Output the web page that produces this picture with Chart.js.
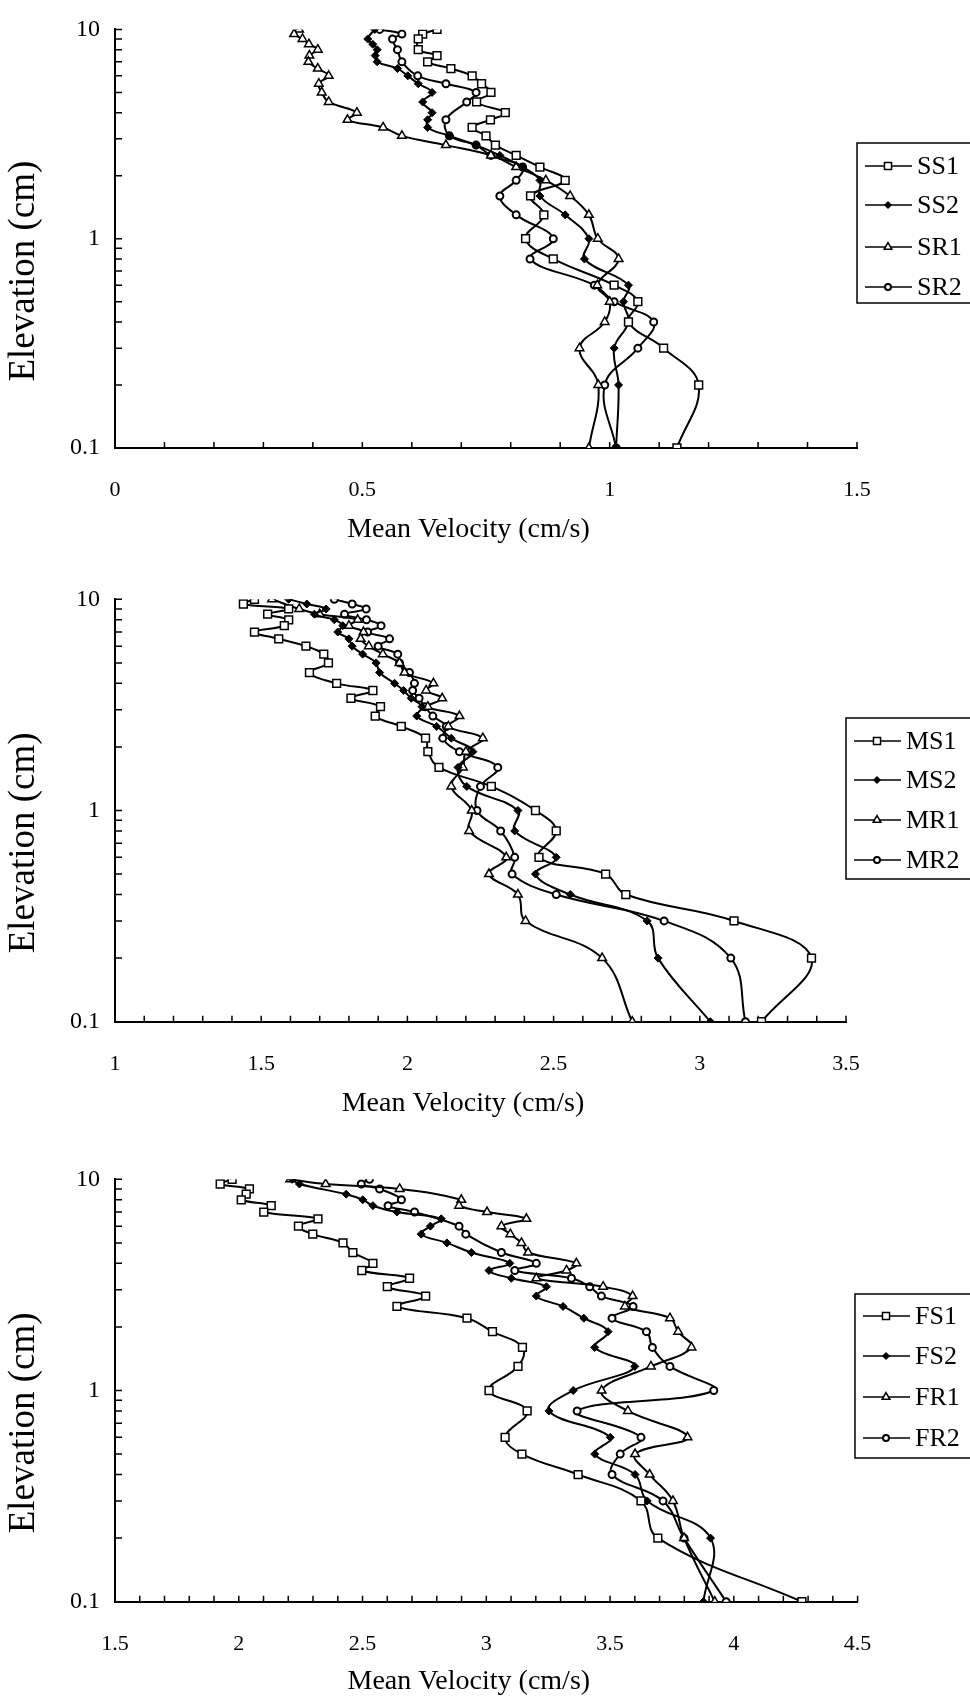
<!DOCTYPE html>
<html>
<head>
<meta charset="utf-8">
<script src="https://cdn.jsdelivr.net/npm/chart.js"></script>
<style>
  html, body { margin: 0; padding: 0; background: #fff; overflow: hidden; }
  body { width: 970px; height: 1696px; position: relative; }
  canvas { position: absolute; left: 0; }
</style>
</head>
<body>
<canvas id="p1" width="970" height="600" style="top:0px"></canvas>
<canvas id="p2" width="970" height="600" style="top:560px"></canvas>
<canvas id="p3" width="970" height="600" style="top:1120px"></canvas>
<script>
Chart.defaults.font.family = '"Liberation Serif", "Times New Roman", serif';
Chart.defaults.color = '#000';

// elevations (cm), top to bottom, shared by every series
const elevations = [10, 9.5, 9, 8.5, 8, 7.5, 7, 6.5, 6, 5.5, 5, 4.5, 4, 3.7, 3.4, 3.1, 2.8, 2.5, 2.2, 1.9, 1.6, 1.3, 1, 0.8, 0.6, 0.5, 0.4, 0.3, 0.2, 0.1];

// mean velocity (cm/s), null = no marker at that elevation
// slow runs
const slowLabels = ['SS1', 'SS2', 'SR1', 'SR2'];
const ss1 = [0.651, 0.622, 0.613, null, 0.613, 0.651, 0.632, 0.679, 0.722, 0.741, 0.760, 0.731, 0.789, 0.759, 0.722, 0.750, 0.769, 0.811, 0.859, 0.910, 0.840, 0.867, 0.830, 0.886, 1.009, 1.057, 1.038, 1.109, 1.180, 1.136];
const ss2 = [0.525, null, 0.511, 0.521, 0.530, 0.526, 0.530, 0.571, 0.592, 0.613, 0.641, 0.622, 0.641, 0.632, 0.632, 0.676, 0.730, 0.778, 0.824, 0.859, 0.859, 0.910, 0.958, 0.949, 1.038, 1.028, 1.038, 1.009, 1.018, 1.013];
const sr1 = [0.372, 0.362, 0.379, 0.392, 0.410, 0.393, 0.391, 0.410, 0.432, 0.412, 0.418, 0.432, 0.489, 0.470, 0.542, 0.580, 0.669, 0.760, 0.811, 0.871, 0.920, 0.958, 0.976, 1.018, 0.975, 1.000, 0.990, 0.939, 0.977, 0.958];
const sr2 = [0.535, 0.580, 0.561, null, 0.571, null, 0.580, null, 0.612, 0.669, 0.730, 0.711, null, 0.669, null, 0.676, 0.730, 0.760, 0.824, 0.811, 0.778, 0.811, 0.886, 0.839, 0.969, 1.009, 1.089, 1.057, 0.990, 1.013];

// medium runs
const medLabels = ['MS1', 'MS2', 'MR1', 'MR2'];
const ms1 = [1.477, 1.439, 1.594, 1.522, 1.594, 1.579, 1.477, 1.560, 1.653, 1.714, 1.730, 1.665, 1.758, 1.882, 1.807, 1.908, 1.890, 1.979, 2.062, 2.070, 2.108, 2.287, 2.438, 2.509, 2.450, 2.678, 2.747, 3.117, 3.382, 3.211];
const ms2 = [1.594, 1.656, 1.722, 1.682, 1.750, 1.779, 1.762, 1.800, 1.811, 1.847, 1.893, 1.905, 1.956, 1.987, 2.013, 2.050, 2.032, 2.100, 2.150, 2.224, 2.173, 2.203, 2.378, 2.367, 2.509, 2.438, 2.557, 2.820, 2.857, 3.036];
const mr1 = [1.537, null, 1.630, 1.700, 1.830, 1.800, 1.850, 1.840, 1.868, 1.916, 1.973, 1.990, 2.089, 2.064, 2.119, 2.070, 2.178, 2.140, 2.258, 2.200, 2.190, 2.150, 2.220, 2.211, 2.338, 2.279, 2.378, 2.404, 2.666, 2.769];
const mr2 = [1.750, 1.811, 1.859, 1.785, 1.860, 1.910, 1.864, 1.939, 1.900, 1.967, 1.973, 2.007, 2.024, 2.018, 2.040, 2.060, 2.087, 2.133, 2.121, 2.178, 2.309, 2.250, 2.238, 2.319, 2.367, 2.358, 2.509, 2.878, 3.106, 3.156];

// fast runs
const fastLabels = ['FS1', 'FS2', 'FR1', 'FR2'];
const fs1 = [1.973, 1.925, 2.043, 2.030, 2.010, 2.131, 2.101, 2.320, 2.241, 2.299, 2.421, 2.461, 2.542, 2.497, 2.690, 2.600, 2.755, 2.639, 2.922, 3.025, 3.146, 3.128, 3.011, 3.165, 3.076, 3.144, 3.371, 3.625, 3.693, 4.275];
const fs2 = [2.215, 2.245, null, 2.434, 2.501, 2.542, 2.639, 2.818, 2.774, 2.737, 2.841, 2.940, 3.095, 3.011, 3.101, 3.243, 3.202, 3.310, 3.394, 3.492, 3.438, 3.600, 3.351, 3.253, 3.501, 3.438, 3.601, 3.650, 3.906, 3.877];
const fr1 = [2.208, 2.351, 2.650, null, 2.899, 2.890, 3.003, 3.162, 3.061, 3.097, 3.142, 3.169, 3.364, 3.324, 3.202, 3.472, 3.591, 3.560, 3.742, 3.775, 3.829, 3.665, 3.466, 3.572, 3.813, 3.601, 3.660, 3.754, 3.799, 3.923];
const fr2 = [2.528, 2.495, 2.569, null, 2.657, 2.603, 2.710, null, 2.890, 2.917, null, 3.061, 3.202, 3.115, 3.344, 3.418, 3.465, 3.593, 3.508, 3.647, 3.671, 3.742, 3.919, 3.367, 3.625, 3.541, 3.508, 3.714, 3.799, 3.969];

// marker look for the 4 series of each panel (S1, S2, R1, R2)
const markers = [
  { pointStyle: 'rect', pointRadius: 5.5, pointBackgroundColor: '#fff', pointBorderWidth: 1.5 },
  { pointStyle: 'rectRot', pointRadius: 4, pointBackgroundColor: '#000', pointBorderWidth: 1 },
  { pointStyle: 'triangle', pointRadius: 5, pointBackgroundColor: '#fff', pointBorderWidth: 1.5 },
  { pointStyle: 'circle', pointRadius: 3.5, pointBackgroundColor: '#fff', pointBorderWidth: 2 }
];

// titles sit a little off-centre in the original, trailing spaces push them
const pad = n => '\u00a0'.repeat(n);
const xTitle = 'Mean Velocity (cm/s)' + pad(5);
const yTitle = 'Elevation (cm)' + pad(7);

function toPoints(vals) {
  return vals.map((v, i) => v === null ? null : { x: v, y: elevations[i] }).filter(p => p);
}

// small ticks pointing into the plot
const innerTicks = {
  id: 'innerTicks',
  beforeDatasetsDraw(chart) {
    const { ctx, chartArea: a, scales: { x, y } } = chart;
    ctx.save();
    ctx.strokeStyle = '#000';
    ctx.lineWidth = 1.5;
    ctx.beginPath();
    x.ticks.forEach(t => {
      const px = x.getPixelForValue(t.value);
      ctx.moveTo(px, a.bottom);
      ctx.lineTo(px, a.bottom - 6);
    });
    [0.1, 1].forEach(d => {
      for (let k = 1; k <= 10; k++) {
        const py = y.getPixelForValue(d * k);
        ctx.moveTo(a.left, py);
        ctx.lineTo(a.left + 7, py);
      }
    });
    ctx.stroke();
    ctx.restore();
  }
};

// boxed legend on the right, line + marker + name
const legendBox = {
  id: 'legendBox',
  afterDraw(chart, args, opts) {
    const ctx = chart.ctx;
    ctx.save();
    ctx.strokeStyle = '#000';
    ctx.lineWidth = 1.5;
    ctx.strokeRect(opts.x, opts.top, 990 - opts.x, opts.bottom - opts.top);
    chart.data.datasets.forEach((ds, i) => {
      const y = opts.rows[i];
      ctx.strokeStyle = '#000';
      ctx.lineWidth = 1.6;
      ctx.beginPath();
      ctx.moveTo(opts.x + 8, y);
      ctx.lineTo(opts.x + 55, y);
      ctx.stroke();
      ctx.fillStyle = ds.pointBackgroundColor;
      ctx.lineWidth = ds.pointBorderWidth;
      Chart.helpers.drawPoint(ctx, { pointStyle: ds.pointStyle, radius: ds.pointRadius - 0.5, borderWidth: ds.pointBorderWidth, rotation: 0 }, opts.x + 31, y);
      ctx.fillStyle = '#000';
      ctx.font = '26px "Liberation Serif"';
      ctx.textBaseline = 'middle';
      ctx.textAlign = 'left';
      ctx.fillText(ds.label, opts.x + 60, y + 1);
    });
    ctx.restore();
  }
};

function isHalf(v) {
  return Math.abs(v * 2 - Math.round(v * 2)) < 1e-6;
}

function makePanel(id, labels, series, xMin, xMax, lay) {
  return new Chart(document.getElementById(id), {
    type: 'scatter',
    data: {
      datasets: series.map((vals, i) => Object.assign({
        label: labels[i],
        data: toPoints(vals),
        showLine: true,
        tension: 0.4,
        borderColor: '#000',
        borderWidth: 2,
        pointBorderColor: '#000'
      }, markers[i]))
    },
    options: {
      responsive: false,
      animation: false,
      layout: { padding: { top: lay.top, right: lay.right, bottom: 0, left: 0 } },
      plugins: {
        legend: { display: false },
        tooltip: { enabled: false },
        legendBox: lay.legend
      },
      scales: {
        x: {
          type: 'linear',
          min: xMin,
          max: xMax,
          afterFit: s => { s.height = lay.xh; },
          grid: { display: false, drawTicks: false },
          border: { display: true, color: '#000', width: 2 },
          ticks: {
            stepSize: 0.1,
            maxTicksLimit: 100,
            autoSkip: false,
            maxRotation: 0,
            padding: 29,
            font: { size: 22 },
            callback: v => isHalf(v) ? String(+v.toFixed(1)) : ''
          },
          title: {
            display: true,
            text: xTitle,
            font: { size: 28, lineHeight: 1 },
            padding: { top: 0, bottom: lay.tb + 1 }
          }
        },
        y: {
          type: 'logarithmic',
          min: 0.1,
          max: 10,
          afterFit: s => { s.width = 115; },
          grid: { display: false, drawTicks: false },
          border: { display: true, color: '#000', width: 2 },
          ticks: {
            autoSkip: false,
            padding: 15,
            font: { size: 24 },
            callback: v => {
              const l = Math.log10(v);
              return Math.abs(l - Math.round(l)) < 1e-6 ? String(+v.toPrecision(2)) : '';
            }
          },
          title: {
            display: true,
            text: yTitle,
            font: { size: 37 },
            padding: { top: 2, bottom: 0 }
          }
        }
      }
    },
    plugins: [innerTicks, legendBox]
  });
}

makePanel('p1', slowLabels, [ss1, ss2, sr1, sr2], 0, 1.5, {
  top: 24, right: 113, xh: 152, tb: 55,
  legend: { x: 857, top: 143, bottom: 303, rows: [166, 205, 247, 287] }
});

makePanel('p2', medLabels, [ms1, ms2, mr1, mr2], 1, 3.5, {
  top: 39.3, right: 124, xh: 138.3, tb: 41.3,
  legend: { x: 846, top: 158, bottom: 319, rows: [181, 220, 260, 300] }
});

makePanel('p3', fastLabels, [fs1, fs2, fr1, fr2], 1.5, 4.5, {
  top: 59.3, right: 112.4, xh: 118.3, tb: 23.3,
  legend: { x: 855, top: 174, bottom: 338, rows: [196, 236, 277, 318] }
});
</script>
</body>
</html>
